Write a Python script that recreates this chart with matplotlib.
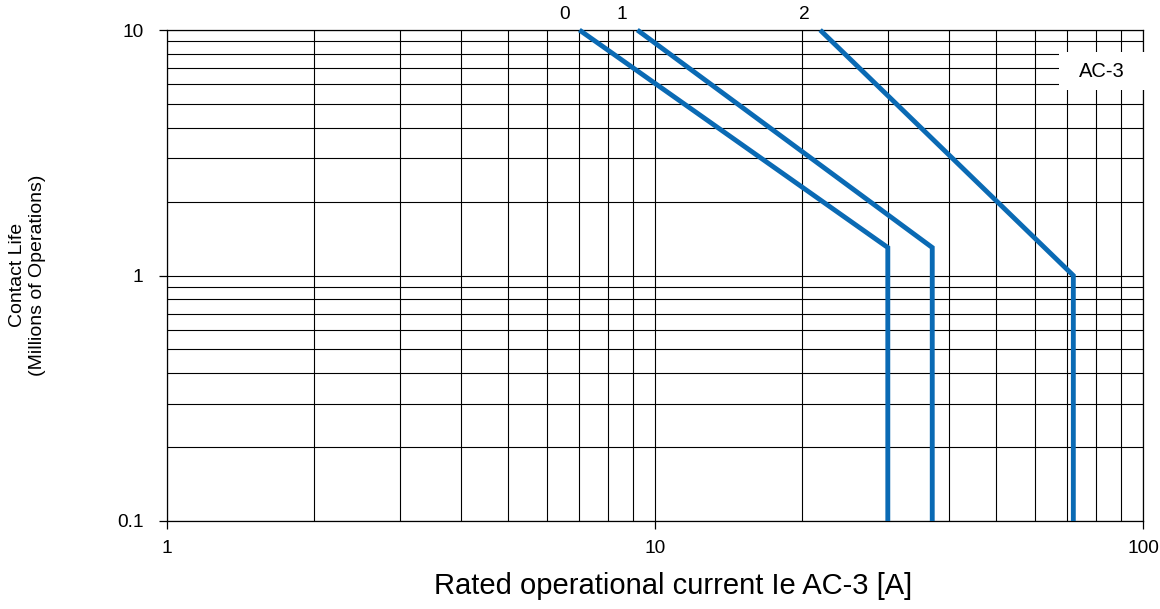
import matplotlib
matplotlib.use("Agg")
import matplotlib.pyplot as plt
from matplotlib.patches import Rectangle
from matplotlib.ticker import FixedLocator, FixedFormatter, LogLocator, NullFormatter

plt.rcParams['font.family'] = ['Liberation Sans', 'DejaVu Sans']

# Data: contact life curves (current [A], life [millions of operations])
curve_labels = ["0", "1", "2"]
curve0_x = [7.0, 30.0, 30.0]
curve0_y = [10.0, 1.3, 0.1]
curve1_x = [9.2, 37.0, 37.0]
curve1_y = [10.0, 1.3, 0.1]
curve2_x = [21.8, 72.0, 72.0]
curve2_y = [10.0, 1.0, 0.1]

x_ticks = [1, 10, 100]
x_ticklabels = ["1", "10", "100"]
y_ticks = [0.1, 1, 10]
y_ticklabels = ["0.1", "1", "10"]

line_color = "#0a6ab4"

fig = plt.figure(figsize=(11.6, 6.09), dpi=100)
ax = fig.add_axes([0.144, 0.1445, 0.8413, 0.8062])

ax.set_xscale("log")
ax.set_yscale("log")
ax.set_xlim(1, 100)
ax.set_ylim(0.1, 10)

ax.xaxis.set_major_locator(FixedLocator(x_ticks))
ax.xaxis.set_major_formatter(FixedFormatter(x_ticklabels))
ax.yaxis.set_major_locator(FixedLocator(y_ticks))
ax.yaxis.set_major_formatter(FixedFormatter(y_ticklabels))
ax.xaxis.set_minor_locator(LogLocator(base=10, subs=range(2, 10)))
ax.yaxis.set_minor_locator(LogLocator(base=10, subs=range(2, 10)))
ax.xaxis.set_minor_formatter(NullFormatter())
ax.yaxis.set_minor_formatter(NullFormatter())

ax.grid(True, which="both", color="black", linewidth=0.8)
ax.set_axisbelow(True)
ax.tick_params(which="major", direction="out", length=6, width=0.9, color="black",
               labelsize=13.8)
ax.tick_params(axis="x", which="major", pad=7.5)
ax.tick_params(axis="y", which="major", pad=11)
ax.tick_params(which="minor", length=0)
for s in ax.spines.values():
    s.set_color("black")
    s.set_linewidth(0.9)

xs = [curve0_x, curve1_x, curve2_x]
ys = [curve0_y, curve1_y, curve2_y]
for lab, cx, cy in zip(curve_labels, xs, ys):
    ax.plot(cx, cy, color=line_color, linewidth=3.5, solid_joinstyle="miter",
            solid_capstyle="butt", zorder=4, clip_on=False)
    ax.annotate(lab, xy=(cx[0], cy[0]), xytext=(-11, 11), textcoords="offset points",
                ha="center", va="center", fontsize=13.8, annotation_clip=False)

# AC-3 label box
ax.add_patch(Rectangle((0.914, 0.878), 0.088, 0.077, transform=ax.transAxes,
                       facecolor="white", edgecolor="none", zorder=3, clip_on=False))
ax.text(0.958, 0.916, "AC-3", transform=ax.transAxes, ha="center", va="center",
        fontsize=14.5, zorder=5)

ax.set_xlabel("Rated operational current Ie AC-3 [A]", fontsize=21, labelpad=11, x=0.519)
fig.text(0.0235, 0.548, "Contact Life\n(Millions of Operations)", rotation=90,
         ha="center", va="center", fontsize=14, linespacing=1.2)

fig.savefig("out.png", dpi=100)
